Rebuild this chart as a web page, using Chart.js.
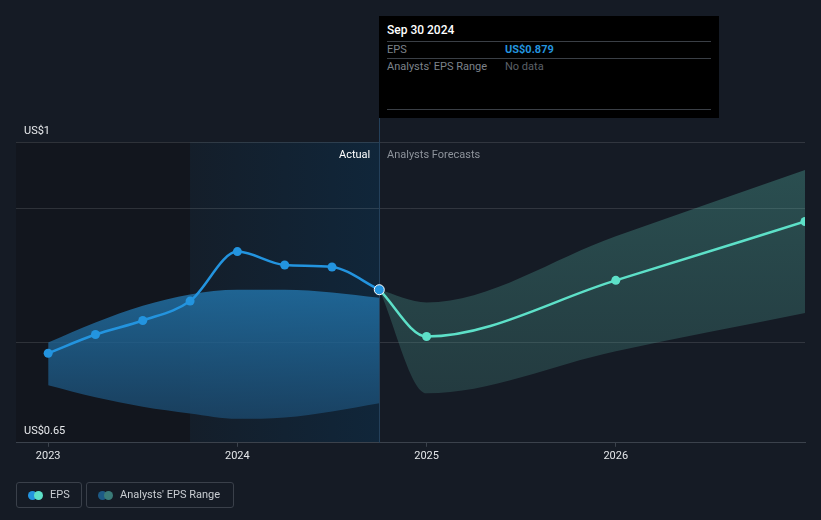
<!DOCTYPE html>
<html>
<head>
<meta charset="utf-8">
<script src="https://cdn.jsdelivr.net/npm/chart.js@4/dist/chart.umd.min.js"></script>
<style>
  body { margin: 0; background: #151b25; font-family: Roboto, "Noto Sans", sans-serif; }
  #wrap { position: relative; width: 821px; height: 520px; overflow: hidden; }
  #chart { position: absolute; left: 0; top: 0; }
  .lbl { position: absolute; font-size: 11px; line-height: 13px; white-space: nowrap; }
  #tip { position: absolute; left: 379px; top: 16px; width: 340px; height: 102px; background: #000; }
  #tip .sep { position: absolute; left: 8px; width: 324px; height: 1px; background: #3a3f46; }
  .legbox { position: absolute; top: 482px; height: 26px; border: 1px solid #3a404a; border-radius: 3px; box-sizing: border-box; }
  .dot { position: absolute; top: 8px; width: 9px; height: 9px; border-radius: 50%; }
</style>
</head>
<body>
<div id="wrap">
  <canvas id="chart" width="821" height="520"></canvas>
  <div class="lbl" id="yTop" style="left:24px;top:124px;color:#e8eaed;"></div>
  <div class="lbl" id="yBottom" style="left:24px;top:424px;color:#e8eaed;"></div>
  <div class="lbl" style="left:339px;top:148px;color:#ffffff;">Actual</div>
  <div class="lbl" style="left:387px;top:148px;color:#8d939b;">Analysts Forecasts</div>
  <div id="tip">
    <div class="lbl" style="left:8px;top:8px;color:#fff;font-size:12px;font-weight:500;">Sep 30 2024</div>
    <div class="sep" style="top:25px;"></div>
    <div class="lbl" style="left:8px;top:27px;color:#7d838b;">EPS</div>
    <div class="lbl" style="left:126px;top:27px;color:#2394df;font-weight:700;">US$0.879</div>
    <div class="sep" style="top:42px;"></div>
    <div class="lbl" style="left:8px;top:44px;color:#7d838b;">Analysts' EPS Range</div>
    <div class="lbl" style="left:126px;top:44px;color:#5c6168;">No data</div>
    <div class="sep" style="top:93px;"></div>
  </div>
  <div class="legbox" style="left:16px;width:66px;">
    <div class="dot" style="left:11px;background:#2394df;"></div>
    <div class="dot" style="left:17px;background:#5de0c8;"></div>
    <div class="lbl" style="left:33px;top:5px;color:#c9cdd2;">EPS</div>
  </div>
  <div class="legbox" style="left:86px;width:148px;">
    <div class="dot" style="left:11px;background:#1d5a85;"></div>
    <div class="dot" style="left:17px;background:#3a7b78;"></div>
    <div class="lbl" style="left:33px;top:5px;color:#c9cdd2;">Analysts' EPS Range</div>
  </div>
</div>
<script>
// dates as decimal years
const actualDates = [2023.0, 2023.25, 2023.5, 2023.75, 2024.0, 2024.25, 2024.5, 2024.75];
const actualEps = [0.784, 0.812, 0.833, 0.862, 0.936, 0.916, 0.913, 0.879];
const pastRangeHigh = [0.800, 0.830, 0.855, 0.872, 0.879, 0.879, 0.875, 0.867];
const pastRangeLow = [0.736, 0.718, 0.704, 0.694, 0.686, 0.688, 0.697, 0.709];
const forecastDates = [2024.75, 2025.0, 2026.0, 2027.0];
const forecastEps = [0.879, 0.809, 0.893, 0.981];
const forecastHigh = [0.879, 0.860, 0.959, 1.058];
const forecastLow = [0.879, 0.724, 0.787, 0.844];
const yearTicks = [2023, 2024, 2025, 2026];
const yGridValues = [0.65, 0.8, 1.0, 1.1];
const yLabels = ["US$1", "US$0.65"];

document.getElementById("yTop").textContent = yLabels[0];
document.getElementById("yBottom").textContent = yLabels[1];

const pts = (xs, ys) => xs.map((x, i) => ({ x: x, y: ys[i] }));
const lastActual = actualDates[actualDates.length - 1];

function vGrad(chart, y1, y2, c1, c2) {
    const g = chart.ctx.createLinearGradient(0, y1, 0, y2);
    g.addColorStop(0, c1);
    g.addColorStop(1, c2);
    return g;
}

const backdrop = {
    id: "backdrop",
    beforeDraw(chart) {
        const { ctx, chartArea: ca, scales } = chart;
        const xs = scales.x;
        ctx.save();
        ctx.fillStyle = "#151b25";
        ctx.fillRect(0, 0, chart.width, chart.height);
        const xa = xs.getPixelForValue(2023.75);
        const xb = xs.getPixelForValue(lastActual);
        ctx.fillStyle = "#12161e";
        ctx.fillRect(ca.left, ca.top, xa - ca.left, ca.bottom - ca.top);
        const g = ctx.createLinearGradient(xa, 0, xb, 0);
        g.addColorStop(0, "#141e2a");
        g.addColorStop(1, "#10263a");
        ctx.fillStyle = g;
        ctx.fillRect(xa, ca.top, xb - xa, ca.bottom - ca.top);
        ctx.restore();
    },
    beforeDatasetsDraw(chart) {
        const { ctx, chartArea: ca, scales } = chart;
        const xb = Math.round(scales.x.getPixelForValue(lastActual)) + 0.5;
        ctx.save();
        ctx.strokeStyle = "#24405a";
        ctx.lineWidth = 1;
        ctx.beginPath();
        ctx.moveTo(xb, 118);
        ctx.lineTo(xb, ca.bottom);
        ctx.stroke();
        ctx.restore();
    }
};

const ctx = document.getElementById("chart").getContext("2d");
const myChart = new Chart(ctx, {
    type: "line",
    data: {
        datasets: [
            {
                label: "EPS",
                data: pts(actualDates, actualEps),
                borderColor: "#2394df",
                borderWidth: 2.5,
                cubicInterpolationMode: "monotone",
                pointRadius: actualDates.map((d) => (d === lastActual ? 5 : 4.5)),
                pointBackgroundColor: "#2394df",
                pointBorderColor: actualDates.map((d) => (d === lastActual ? "#ffffff" : "#2394df")),
                pointBorderWidth: actualDates.map((d) => (d === lastActual ? 1 : 0)),
                fill: false,
            },
            {
                label: "EPS forecast",
                data: pts(forecastDates, forecastEps),
                borderColor: "#5de0c8",
                borderWidth: 2.5,
                cubicInterpolationMode: "monotone",
                pointRadius: forecastDates.map((d) => (d === lastActual ? 0 : 4.5)),
                pointBackgroundColor: "#5de0c8",
                pointBorderWidth: 0,
                fill: false,
                clip: { left: 5, top: 5, right: 0, bottom: 5 },
            },
            {
                label: "range high",
                data: pts(actualDates, pastRangeHigh),
                borderWidth: 0,
                pointRadius: 0,
                cubicInterpolationMode: "monotone",
                fill: "+1",
                backgroundColor: (c) => vGrad(c.chart, 290, 420, "rgba(34,117,172,0.8)", "rgba(27,72,108,0.8)"),
            },
            {
                label: "range low",
                data: pts(actualDates, pastRangeLow),
                borderWidth: 0,
                pointRadius: 0,
                cubicInterpolationMode: "monotone",
                fill: false,
            },
            {
                label: "forecast high",
                data: pts(forecastDates, forecastHigh),
                borderWidth: 0,
                pointRadius: 0,
                cubicInterpolationMode: "monotone",
                fill: "+1",
                backgroundColor: (c) => vGrad(c.chart, 170, 400, "rgba(91,197,180,0.3)", "rgba(68,130,124,0.3)"),
            },
            {
                label: "forecast low",
                data: pts(forecastDates, forecastLow),
                borderWidth: 0,
                pointRadius: 0,
                cubicInterpolationMode: "monotone",
                fill: false,
            },
        ],
    },
    options: {
        responsive: false,
        animation: false,
        layout: { padding: { left: 16, right: 16, top: 142, bottom: 54 } },
        plugins: { legend: { display: false }, tooltip: { enabled: false } },
        scales: {
            x: {
                type: "linear",
                min: 2022.83,
                max: 2027.0,
                afterBuildTicks: (s) => { s.ticks = yearTicks.map((v) => ({ value: v })); },
                ticks: {
                    callback: (v) => String(v),
                    color: "#e3e6e9",
                    font: { family: "Roboto", size: 11 },
                    padding: 3,
                    maxRotation: 0,
                },
                grid: { drawOnChartArea: false, tickLength: 4, color: "#3b424c" },
                border: { color: "#3b424c" },
            },
            y: {
                min: 0.65,
                max: 1.1,
                afterBuildTicks: (s) => { s.ticks = yGridValues.map((v) => ({ value: v })); },
                ticks: { display: false },
                grid: {
                    drawTicks: false,
                    color: (c) => (c.tick && c.tick.value === 0.65 ? "rgba(0,0,0,0)" : "rgba(255,255,255,0.12)"),
                },
                border: { display: false },
            },
        },
    },
    plugins: [backdrop],
});
</script>
</body>
</html>
